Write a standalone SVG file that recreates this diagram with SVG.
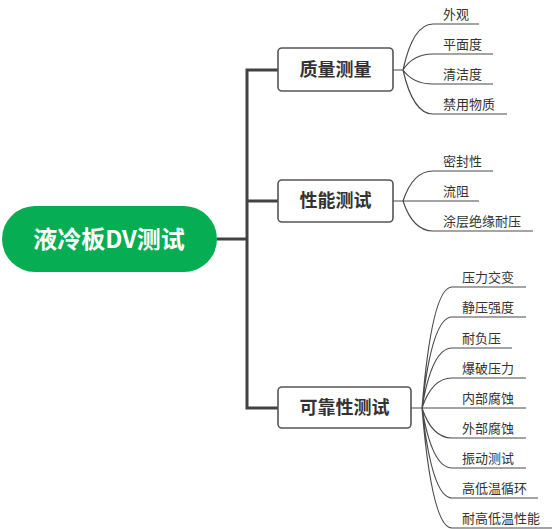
<svg xmlns="http://www.w3.org/2000/svg" width="553" height="529" viewBox="0 0 553 529">
<style>
.trunk{fill:none;stroke:#424242;stroke-width:3}
.leafc{fill:none;stroke:#4a4a4a;stroke-width:1.2}
.box{fill:#fff;stroke:#555;stroke-width:1.6}
.bt{font-family:"Noto Sans CJK SC","Liberation Sans",sans-serif;font-size:18px;font-weight:bold;fill:#333;text-anchor:middle}
.lt{font-family:"Noto Sans CJK SC","Liberation Sans",sans-serif;font-size:13px;fill:#333}
.rt{font-family:"Noto Sans CJK SC","Liberation Sans",sans-serif;font-size:24px;font-weight:bold;fill:#fff;text-anchor:middle}
</style>
<rect width="553" height="529" fill="#fff"/>
<g id="connectors">
<path class="trunk" d="M217 239 H247 M278 70 H247 V408 H278 M247 201 H278"/>
<path class="leafc" d="M393 70 H403 Q413 24 433 24 H479 M403 70 Q413 54 433 54 H493 M403 70 Q413 84 433 84 H493 M403 70 Q413 114 433 114 H507"/>
<path class="leafc" d="M393 201 H403 Q413 171 433 171 H493 M403 201 H479 M403 201 Q413 231 433 231 H533"/>
<path class="leafc" d="M411 408 H422 Q432 287 452 287 H526 M422 408 Q432 317 452 317 H526 M422 408 Q432 348 452 348 H512 M422 408 Q432 378 452 378 H526 M422 408 H526 M422 408 Q432 438 452 438 H526 M422 408 Q432 468 452 468 H526 M422 408 Q432 498 452 498 H538 M422 408 Q432 528 452 528 H552"/>
</g>
<g id="root">
<rect x="2" y="206" width="215" height="66" rx="33" fill="#07ad52"/>
<text class="rt" x="109" y="248">液冷板DV测试</text>
</g>
<g id="n1">
<rect class="box" x="278" y="48" width="115" height="43" rx="4"/>
<text class="bt" x="335.5" y="76">质量测量</text>
</g>
<g id="n2">
<rect class="box" x="278" y="180" width="115" height="42" rx="4"/>
<text class="bt" x="335.5" y="207">性能测试</text>
</g>
<g id="n3">
<rect class="box" x="278" y="387" width="133" height="41" rx="4"/>
<text class="bt" x="344.5" y="414">可靠性测试</text>
</g>
<g id="leaves1">
<text class="lt" x="443" y="19">外观</text>
<text class="lt" x="443" y="49">平面度</text>
<text class="lt" x="443" y="79">清洁度</text>
<text class="lt" x="443" y="109">禁用物质</text>
</g>
<g id="leaves2">
<text class="lt" x="443" y="166">密封性</text>
<text class="lt" x="443" y="196">流阻</text>
<text class="lt" x="443" y="226">涂层绝缘耐压</text>
</g>
<g id="leaves3">
<text class="lt" x="462" y="282">压力交变</text>
<text class="lt" x="462" y="312">静压强度</text>
<text class="lt" x="462" y="343">耐负压</text>
<text class="lt" x="462" y="373">爆破压力</text>
<text class="lt" x="462" y="403">内部腐蚀</text>
<text class="lt" x="462" y="433">外部腐蚀</text>
<text class="lt" x="462" y="463">振动测试</text>
<text class="lt" x="462" y="493">高低温循环</text>
<text class="lt" x="462" y="523">耐高低温性能</text>
</g>
</svg>
